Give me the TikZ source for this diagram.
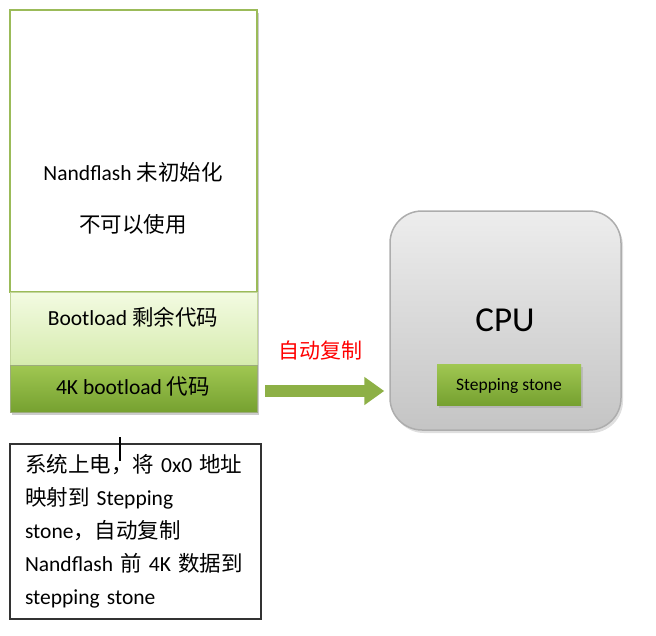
\documentclass[tikz,border=0pt]{standalone}
\usepackage{fontspec}
\setmainfont{Carlito}
\newfontfamily\cjk{Noto Sans CJK SC}
\newcommand\zh[1]{{\cjk #1}}
\usetikzlibrary{positioning,arrows.meta,shadows}
\definecolor{leafgreen}{HTML}{9BBB59}
\definecolor{palegreen}{HTML}{C3D69B}
\definecolor{codegreen}{HTML}{8DB046}
\definecolor{greentop}{HTML}{A0C752}
\definecolor{greenbot}{HTML}{76A130}
\definecolor{paletop}{HTML}{F3FBE2}
\definecolor{palebot}{HTML}{D6EBAE}
\begin{document}
\begin{tikzpicture}[x=1pt, y=-1pt,
  mem box/.style={rectangle, inner sep=0pt, minimum width=247pt},
  soft shadow/.style={drop shadow={opacity=0.25, shadow xshift=2pt, shadow yshift=-3pt}},
  big font/.style={font=\fontsize{21.5}{26}\selectfont},
  copy arrow/.style={draw=codegreen, line width=12pt, -{Triangle[length=20pt, width=27pt]}}]
\useasboundingbox (0,0) rectangle (656,635);
% nandflash column
\node [mem box, fill=black, opacity=0.2, minimum height=402pt] (colshade) at (135.5,214) {};
\node [mem box, draw=leafgreen, line width=2.5pt, fill=white, minimum height=282pt] (flash) at (133.5,151) {};
\node [mem box, draw=palegreen, line width=0.8pt, top color=paletop, bottom color=palebot, minimum height=73pt] (rest) at (133.5,328.5) {};
\node [mem box, draw=palegreen!80!black, line width=0.8pt, top color=greentop, bottom color=greenbot, minimum height=47pt] (code4k) at (133.5,388.5) {};
\node [big font] (flashtxt) at (133,172) {Nandflash \zh{未初始化}};
\node [big font] (unusetxt) at (133,224) {\zh{不可以使用}};
\node [big font] (resttxt) at (133,317) {Bootload \zh{剩余代码}};
\node [big font] (codetxt) at (133,386) {4K bootload \zh{代码}};
% cpu
\node [rectangle, rounded corners=32pt, draw=black!32, line width=1.5pt, top color=black!7, bottom color=black!23, minimum width=231pt, minimum height=219pt, soft shadow] (cpu) at (505.5,320.5) {};
\node [font=\fontsize{35}{40}\selectfont] (cputxt) at (505,320) {CPU};
\node [rectangle, inner sep=0pt, top color=greentop, bottom color=greenbot, minimum width=144pt, minimum height=41pt, text depth=0pt, font=\fontsize{17.5}{20}\selectfont, soft shadow] (stone) at (509,384.5) {Stepping stone};
% copy arrow
\draw [copy arrow, shorten <=8pt, shorten >=5pt] ([yshift=-2.5pt]code4k.east) -- ([yshift=-2.5pt]cpu.west |- code4k.east);
\node [big font, text=red, font=\cjk\fontsize{21}{24}\selectfont] (copytxt) at (320,351) {自动复制};
% note
\node [rectangle, draw=black!80, line width=1.2pt, minimum width=251pt, minimum height=175pt, text width=221pt, align=left, inner xsep=15pt, font=\fontsize{21.5}{33}\selectfont] (note) at (135.5,531.5) {\zh{系统上电，将} 0x0 \zh{地址}\\ \zh{映射到} Stepping\\ stone\zh{，自动复制}\\ Nandflash \zh{前} 4K \zh{数据到}\\ stepping stone};
\draw [line width=1.5pt] (120,437) -- (120,461);
\end{tikzpicture}
\end{document}
